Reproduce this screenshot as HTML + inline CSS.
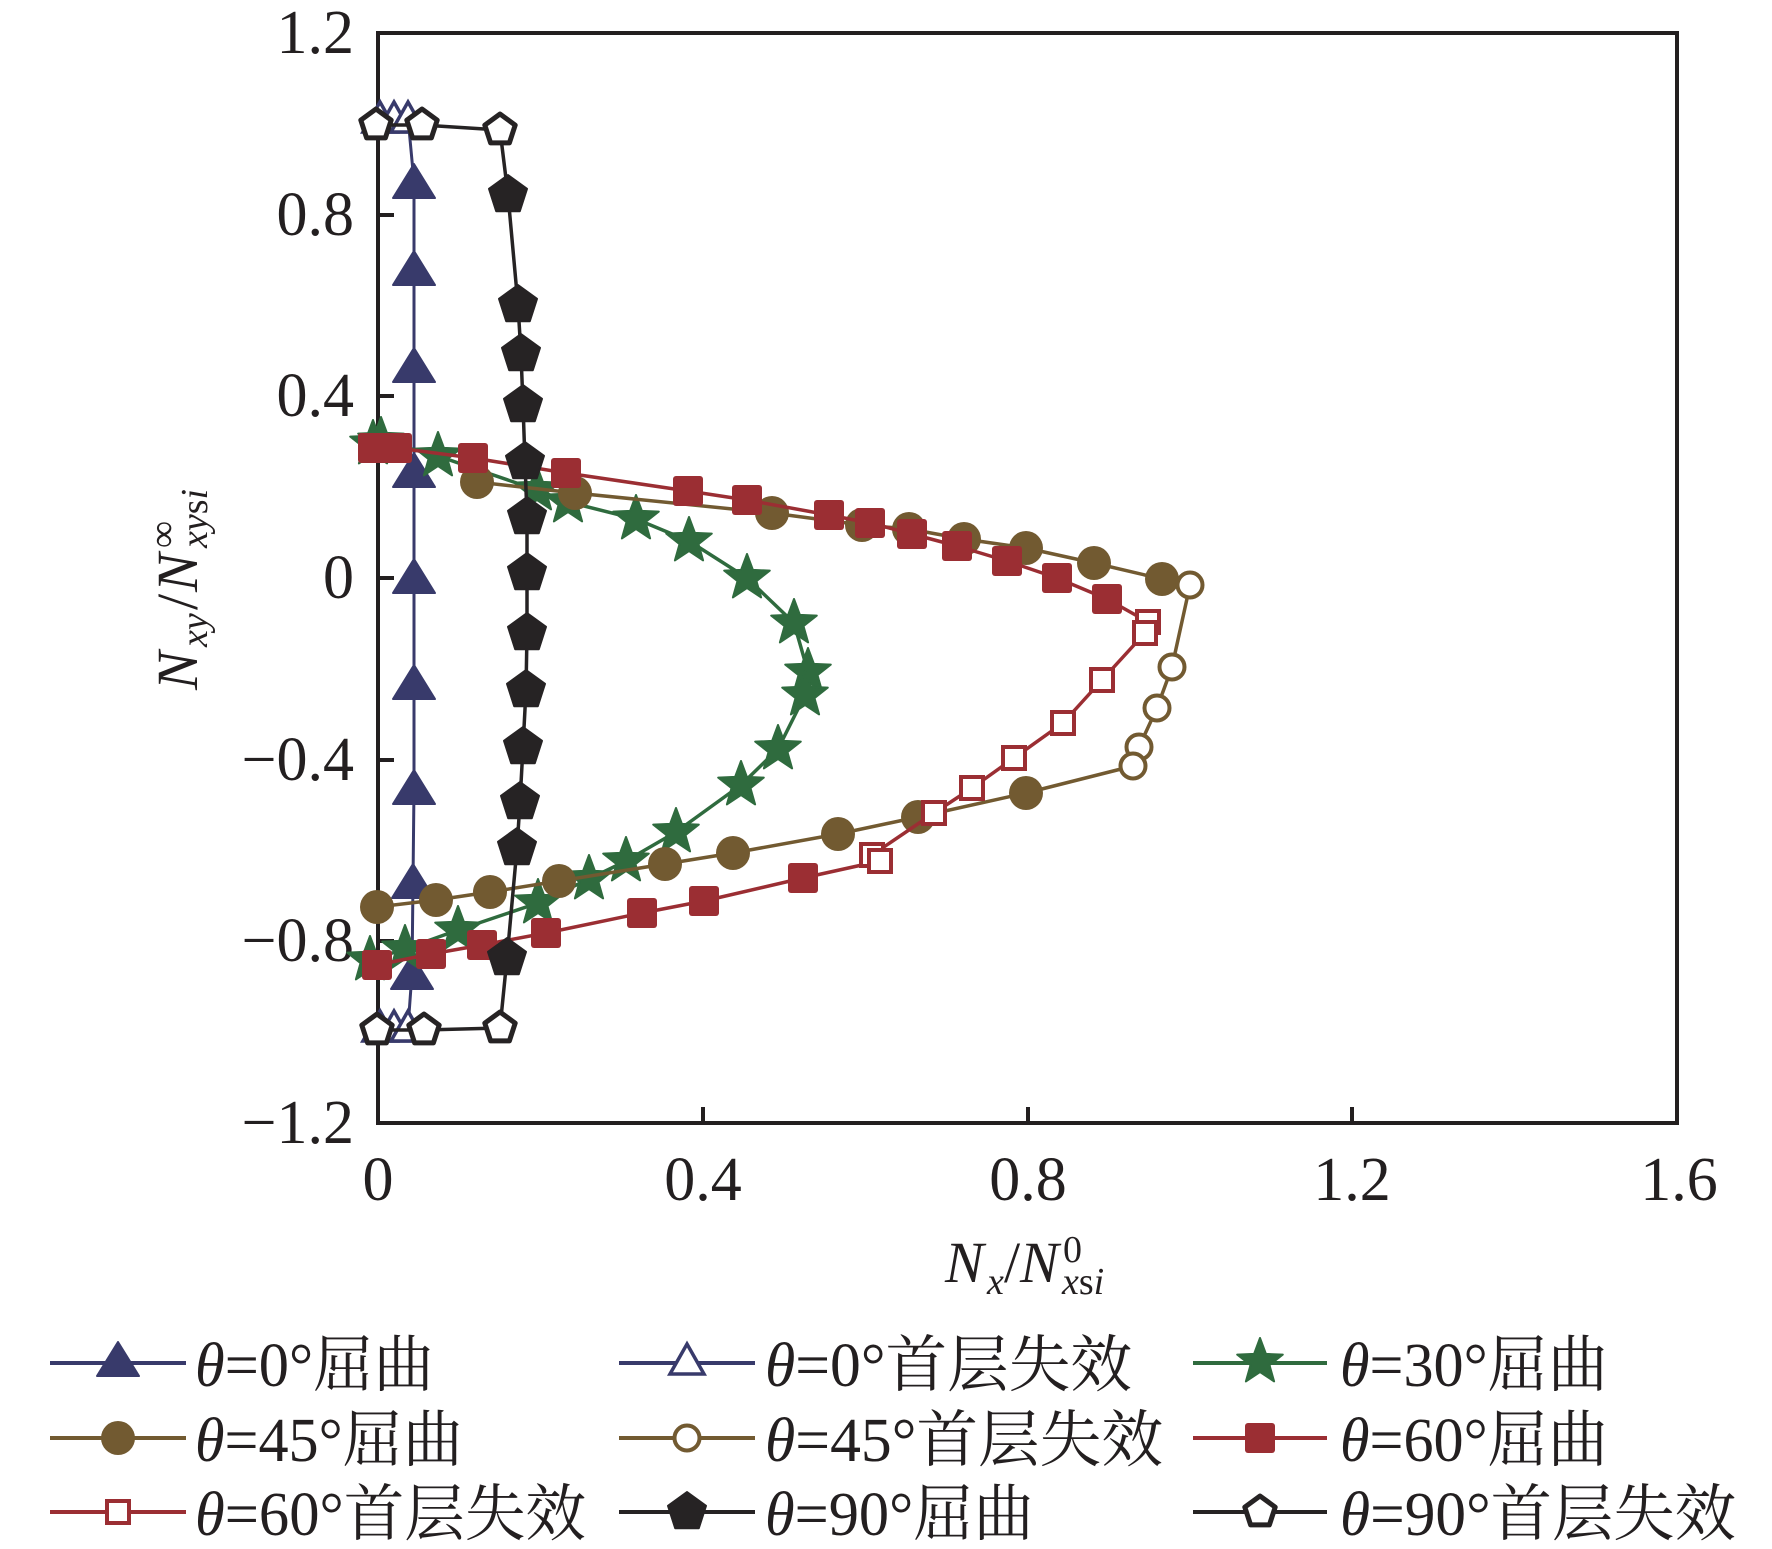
<!DOCTYPE html>
<html>
<head>
<meta charset="utf-8">
<style>
html,body{margin:0;padding:0;background:#fff;}
svg{display:block;}
text{font-family:"Liberation Serif","Noto Serif CJK SC",serif;fill:#231f20;}
</style>
</head>
<body>
<svg width="1772" height="1549" viewBox="0 0 1772 1549" xmlns="http://www.w3.org/2000/svg">
<defs>
  <polygon id="triF" points="0,-18 21,16 -21,16" fill="#383a6b" stroke="#383a6b" stroke-width="2" stroke-linejoin="round"/>
  <polygon id="triO" points="0,-17 17,13 -17,13" fill="#fff" stroke="#383a6b" stroke-width="3.5" stroke-linejoin="miter"/>
  <polygon id="star" points="0,-24 5.9,-8.1 22.8,-7.4 9.5,3.1 14.1,19.4 0,10 -14.1,19.4 -9.5,3.1 -22.8,-7.4 -5.9,-8.1" fill="#2f6b3e" stroke="#2f6b3e" stroke-width="2" stroke-linejoin="round"/>
  <circle id="cirF" r="17" fill="#725a31"/>
  <circle id="cirO" r="12.5" fill="#fff" stroke="#725a31" stroke-width="4"/>
  <rect id="sqF" x="-15" y="-15" width="30" height="30" rx="3" fill="#9b2e33"/>
  <rect id="sqO" x="-11" y="-11" width="22" height="22" fill="#fff" stroke="#9b2e33" stroke-width="4"/>
  <polygon id="penF" points="0,-20 19,-6.2 11.8,16.2 -11.8,16.2 -19,-6.2" fill="#262324" stroke="#262324" stroke-width="2" stroke-linejoin="round"/>
  <polygon id="penO" points="0,-16 15.2,-4.9 9.4,12.9 -9.4,12.9 -15.2,-4.9" fill="#fff" stroke="#262324" stroke-width="5" stroke-linejoin="round"/>
</defs>

<!-- axes frame -->
<rect x="378" y="33" width="1299" height="1090" fill="none" stroke="#231f20" stroke-width="4"/>
<g stroke="#231f20" stroke-width="4">
  <line x1="378" y1="215" x2="394" y2="215"/>
  <line x1="378" y1="396" x2="394" y2="396"/>
  <line x1="378" y1="578" x2="394" y2="578"/>
  <line x1="378" y1="760" x2="394" y2="760"/>
  <line x1="378" y1="941" x2="394" y2="941"/>
  <line x1="703" y1="1123" x2="703" y2="1107"/>
  <line x1="1028" y1="1123" x2="1028" y2="1107"/>
  <line x1="1352" y1="1123" x2="1352" y2="1107"/>
</g>
<g font-size="62" text-anchor="end">
  <text x="354" y="53">1.2</text>
  <text x="354" y="235">0.8</text>
  <text x="354" y="416">0.4</text>
  <text x="354" y="598">0</text>
  <text x="354" y="780">−0.4</text>
  <text x="354" y="961">−0.8</text>
  <text x="354" y="1143">−1.2</text>
</g>
<g font-size="62" text-anchor="middle">
  <text x="378" y="1200">0</text>
  <text x="703" y="1200">0.4</text>
  <text x="1028" y="1200">0.8</text>
  <text x="1352" y="1200">1.2</text>
  <text x="1679" y="1200">1.6</text>
</g>

<!-- x axis title -->
<text x="945" y="1282" font-size="58" font-style="italic">N</text>
<text x="987" y="1294" font-size="38" font-style="italic">x</text>
<text x="1004" y="1282" font-size="58">/</text>
<text x="1020" y="1282" font-size="58" font-style="italic">N</text>
<text x="1063" y="1262" font-size="38">0</text>
<text x="1062" y="1294" font-size="38"><tspan font-style="italic">x</tspan>s<tspan font-style="italic">i</tspan></text>

<!-- y axis title -->
<g transform="translate(197,578) rotate(-90)">
  <text x="-112" y="0" font-size="58" font-style="italic">N</text>
  <text x="-69" y="10" font-size="38" font-style="italic">xy</text>
  <text x="-32" y="0" font-size="58">/</text>
  <text x="-14" y="0" font-size="58" font-style="italic">N</text>
  <text x="30" y="-22" font-size="38">∞</text>
  <text x="30" y="10" font-size="38"><tspan font-style="italic">xy</tspan>s<tspan font-style="italic">i</tspan></text>
</g>

<!-- θ=0° series (navy) -->
<polyline fill="none" stroke="#383a6b" stroke-width="3" stroke-linejoin="round"
  points="380,118 394,118 408,118 414,182 414,269 414,366 414,471 414,577 414,683 414,788 413,882 412,973 408,1028 394,1028 380,1028"/>
<use href="#triO" x="380" y="119"/>
<use href="#triO" x="394" y="119"/>
<use href="#triO" x="408" y="119"/>
<use href="#triO" x="380" y="1028"/>
<use href="#triO" x="394" y="1028"/>
<use href="#triO" x="408" y="1028"/>
<use href="#triF" x="414" y="182"/>
<use href="#triF" x="414" y="269"/>
<use href="#triF" x="414" y="366"/>
<use href="#triF" x="414" y="471"/>
<use href="#triF" x="414" y="577"/>
<use href="#triF" x="414" y="683"/>
<use href="#triF" x="414" y="788"/>
<use href="#triF" x="413" y="882"/>
<use href="#triF" x="412" y="973"/>

<!-- θ=30° (green stars) -->
<polyline fill="none" stroke="#2f6b3e" stroke-width="3.5" stroke-linejoin="round"
  points="373,444 381,441 438,456 537,490 568,502 636,519 689,541 747,578 794,623 808,672 805,695 778,749 741,785 676,832 626,861 589,879 538,903 458,930 405,949 370,960"/>
<use href="#star" x="373" y="444"/>
<use href="#star" x="381" y="441"/>
<use href="#star" x="438" y="456"/>
<use href="#star" x="537" y="490"/>
<use href="#star" x="568" y="502"/>
<use href="#star" x="636" y="519"/>
<use href="#star" x="689" y="541"/>
<use href="#star" x="747" y="578"/>
<use href="#star" x="794" y="623"/>
<use href="#star" x="808" y="672"/>
<use href="#star" x="805" y="695"/>
<use href="#star" x="778" y="749"/>
<use href="#star" x="741" y="785"/>
<use href="#star" x="676" y="832"/>
<use href="#star" x="626" y="861"/>
<use href="#star" x="589" y="879"/>
<use href="#star" x="538" y="903"/>
<use href="#star" x="458" y="930"/>
<use href="#star" x="405" y="949"/>
<use href="#star" x="370" y="960"/>

<!-- θ=45° (brown) -->
<polyline fill="none" stroke="#725a31" stroke-width="3.5" stroke-linejoin="round"
  points="477,482 575,493 772,513 862,525 909,529 964,539 1026,548 1094,563 1162,579 1190,585 1172,667 1157,708 1139,747 1133,766 1026,793 918,817 838,834 733,853 665,864 559,881 490,892 436,900 377,907"/>
<use href="#cirF" x="477" y="482"/>
<use href="#cirF" x="575" y="493"/>
<use href="#cirF" x="772" y="513"/>
<use href="#cirF" x="862" y="525"/>
<use href="#cirF" x="909" y="529"/>
<use href="#cirF" x="964" y="539"/>
<use href="#cirF" x="1026" y="548"/>
<use href="#cirF" x="1094" y="563"/>
<use href="#cirF" x="1162" y="579"/>
<use href="#cirO" x="1190" y="585"/>
<use href="#cirO" x="1172" y="667"/>
<use href="#cirO" x="1157" y="708"/>
<use href="#cirO" x="1139" y="747"/>
<use href="#cirO" x="1133" y="766"/>
<use href="#cirF" x="1026" y="793"/>
<use href="#cirF" x="918" y="817"/>
<use href="#cirF" x="838" y="834"/>
<use href="#cirF" x="733" y="853"/>
<use href="#cirF" x="665" y="864"/>
<use href="#cirF" x="559" y="881"/>
<use href="#cirF" x="490" y="892"/>
<use href="#cirF" x="436" y="900"/>
<use href="#cirF" x="377" y="907"/>

<!-- θ=60° (red) -->
<polyline fill="none" stroke="#9b2e33" stroke-width="3.5" stroke-linejoin="round"
  points="373,448 397,448 473,458 566,473 688,491 747,500 829,515 870,523 912,534 957,546 1007,561 1057,578 1107,599 1148,622 1145,633 1102,680 1063,723 1014,758 972,788 934,813 872,855 880,861 803,878 704,901 642,913 546,933 482,945 431,954 377,965"/>
<use href="#sqF" x="373" y="448"/>
<use href="#sqF" x="397" y="448"/>
<use href="#sqF" x="473" y="458"/>
<use href="#sqF" x="566" y="473"/>
<use href="#sqF" x="688" y="491"/>
<use href="#sqF" x="747" y="500"/>
<use href="#sqF" x="829" y="515"/>
<use href="#sqF" x="870" y="523"/>
<use href="#sqF" x="912" y="534"/>
<use href="#sqF" x="957" y="546"/>
<use href="#sqF" x="1007" y="561"/>
<use href="#sqF" x="1057" y="578"/>
<use href="#sqF" x="1107" y="599"/>
<use href="#sqO" x="1148" y="622"/>
<use href="#sqO" x="1145" y="633"/>
<use href="#sqO" x="1102" y="680"/>
<use href="#sqO" x="1063" y="723"/>
<use href="#sqO" x="1014" y="758"/>
<use href="#sqO" x="972" y="788"/>
<use href="#sqO" x="934" y="813"/>
<use href="#sqO" x="872" y="855"/>
<use href="#sqO" x="880" y="861"/>
<use href="#sqF" x="803" y="878"/>
<use href="#sqF" x="704" y="901"/>
<use href="#sqF" x="642" y="913"/>
<use href="#sqF" x="546" y="933"/>
<use href="#sqF" x="482" y="945"/>
<use href="#sqF" x="431" y="954"/>
<use href="#sqF" x="377" y="965"/>

<!-- θ=90° (black) -->
<polyline fill="none" stroke="#262324" stroke-width="3.5" stroke-linejoin="round"
  points="376,125 422,125 500,130 508,195 518,305 521,354 523,405 525,462 527,517 527,573 527,633 526,690 523,747 520,802 517,848 507,958 500,1028 424,1030 377,1030"/>
<use href="#penF" x="508" y="195"/>
<use href="#penF" x="518" y="305"/>
<use href="#penF" x="521" y="354"/>
<use href="#penF" x="523" y="405"/>
<use href="#penF" x="525" y="462"/>
<use href="#penF" x="527" y="517"/>
<use href="#penF" x="527" y="573"/>
<use href="#penF" x="527" y="633"/>
<use href="#penF" x="526" y="690"/>
<use href="#penF" x="523" y="747"/>
<use href="#penF" x="520" y="802"/>
<use href="#penF" x="517" y="848"/>
<use href="#penF" x="507" y="958"/>
<use href="#penO" x="376" y="125"/>
<use href="#penO" x="422" y="125"/>
<use href="#penO" x="500" y="130"/>
<use href="#penO" x="377" y="1030"/>
<use href="#penO" x="424" y="1030"/>
<use href="#penO" x="500" y="1028"/>

<!-- Legend -->
<g stroke-width="4">
  <line x1="50" y1="1363" x2="186" y2="1363" stroke="#383a6b"/>
  <line x1="50" y1="1438" x2="186" y2="1438" stroke="#725a31"/>
  <line x1="50" y1="1512" x2="186" y2="1512" stroke="#9b2e33"/>
  <line x1="619" y1="1363" x2="755" y2="1363" stroke="#383a6b"/>
  <line x1="619" y1="1438" x2="755" y2="1438" stroke="#725a31"/>
  <line x1="619" y1="1512" x2="755" y2="1512" stroke="#262324"/>
  <line x1="1193" y1="1363" x2="1327" y2="1363" stroke="#2f6b3e"/>
  <line x1="1193" y1="1438" x2="1327" y2="1438" stroke="#9b2e33"/>
  <line x1="1193" y1="1512" x2="1327" y2="1512" stroke="#262324"/>
</g>
<use href="#triF" x="118" y="1360"/>
<use href="#cirF" x="118" y="1438"/>
<use href="#sqO" x="118" y="1512"/>
<use href="#triO" x="687" y="1361"/>
<use href="#cirO" x="687" y="1438"/>
<use href="#penF" x="687" y="1512"/>
<use href="#star" x="1260" y="1362"/>
<use href="#sqF" x="1260" y="1438"/>
<use href="#penO" x="1260" y="1512"/>

<g font-size="62">
  <text x="195" y="1386" textLength="239" lengthAdjust="spacingAndGlyphs"><tspan font-style="italic">θ</tspan>=0°屈曲</text>
  <text x="195" y="1461" textLength="268" lengthAdjust="spacingAndGlyphs"><tspan font-style="italic">θ</tspan>=45°屈曲</text>
  <text x="195" y="1535" textLength="391" lengthAdjust="spacingAndGlyphs"><tspan font-style="italic">θ</tspan>=60°首层失效</text>
  <text x="765" y="1386" textLength="367" lengthAdjust="spacingAndGlyphs"><tspan font-style="italic">θ</tspan>=0°首层失效</text>
  <text x="765" y="1461" textLength="398" lengthAdjust="spacingAndGlyphs"><tspan font-style="italic">θ</tspan>=45°首层失效</text>
  <text x="765" y="1535" textLength="269" lengthAdjust="spacingAndGlyphs"><tspan font-style="italic">θ</tspan>=90°屈曲</text>
  <text x="1340" y="1386" textLength="268" lengthAdjust="spacingAndGlyphs"><tspan font-style="italic">θ</tspan>=30°屈曲</text>
  <text x="1340" y="1461" textLength="268" lengthAdjust="spacingAndGlyphs"><tspan font-style="italic">θ</tspan>=60°屈曲</text>
  <text x="1340" y="1535" textLength="396" lengthAdjust="spacingAndGlyphs"><tspan font-style="italic">θ</tspan>=90°首层失效</text>
</g>
</svg>
</body>
</html>
